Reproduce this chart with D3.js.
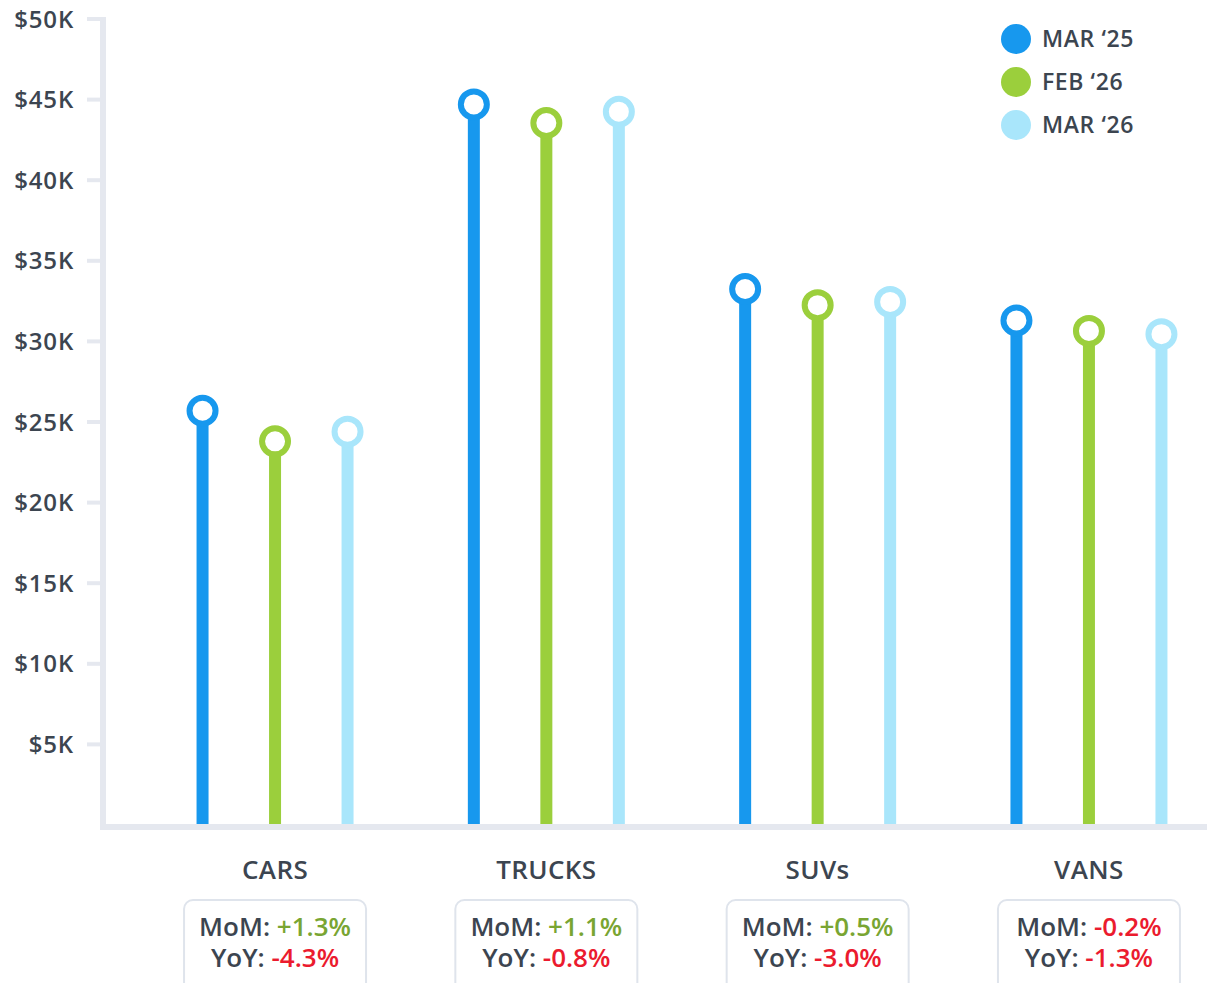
<!DOCTYPE html>
<html><head><meta charset="utf-8">
<script src="https://cdn.jsdelivr.net/npm/d3@7"></script>
<style>
html,body{margin:0;padding:0;background:#fff;}
svg{display:block;font-family:"Open Sans",sans-serif;}
</style></head>
<body><svg id="chart" width="1207" height="983"></svg>
<script>
const categories = ["CARS","TRUCKS","SUVs","VANS"];
const seriesNames = ["MAR \u201825","FEB \u201826","MAR \u201826"];
const seriesColors = ["#1798ee","#9bcf3c","#a9e6fb"];
const mar25 = [25.7, 44.7, 33.25, 31.3];
const feb26 = [23.8, 43.55, 32.25, 30.65];
const mar26 = [24.4, 44.25, 32.45, 30.45];
const tickValues = [5,10,15,20,25,30,35,40,45,50];
const tickLabels = ["$5K","$10K","$15K","$20K","$25K","$30K","$35K","$40K","$45K","$50K"];
const momText = ["+1.3%","+1.1%","+0.5%","-0.2%"];
const yoyText = ["-4.3%","-0.8%","-3.0%","-1.3%"];

const svg = d3.select("#chart");
const axisColor = "#e5e8ef";
const textColor = "#3c4550";
const posColor = "#79a532";
const negColor = "#eb1b2e";

const y = d3.scaleLinear().domain([0,50]).range([825,19]);
const x = d3.scaleBand().domain(categories).range([139.4,1224.6]).padding(0);
const xi = d3.scalePoint().domain(seriesNames).range([-72.5,72.5]);

// axis
const g = svg.append("g");
g.append("line").attr("x1",103).attr("x2",103).attr("y1",17).attr("y2",830)
  .attr("stroke",axisColor).attr("stroke-width",6);
g.append("line").attr("x1",100).attr("x2",1207).attr("y1",827).attr("y2",827)
  .attr("stroke",axisColor).attr("stroke-width",6);
tickValues.forEach((v,i)=>{
  g.append("line").attr("x1",87).attr("x2",101).attr("y1",y(v)).attr("y2",y(v))
    .attr("stroke",axisColor).attr("stroke-width",4);
  g.append("text").attr("x",74).attr("y",y(v)).attr("dy","0.36em")
    .attr("text-anchor","end").attr("font-size",24).attr("font-weight",600)
    .attr("letter-spacing",0.8)
    .attr("fill",textColor).text(tickLabels[i]);
});

// lollipops
const allSeries = [mar25, feb26, mar26];
categories.forEach((c,ci)=>{
  const cx = x(c) + x.bandwidth()/2;
  seriesNames.forEach((s,si)=>{
    const px = cx + xi(s);
    const v = allSeries[si][ci];
    svg.append("line").attr("x1",px).attr("x2",px).attr("y1",y(v)).attr("y2",824)
      .attr("stroke",seriesColors[si]).attr("stroke-width",12);
    svg.append("circle").attr("cx",px).attr("cy",y(v)).attr("r",13)
      .attr("fill","#fff").attr("stroke",seriesColors[si]).attr("stroke-width",6);
  });
  svg.append("text").attr("x",cx).attr("y",870).attr("dy","0.36em")
    .attr("text-anchor","middle").attr("font-size",26).attr("font-weight",600)
    .attr("letter-spacing",0.4)
    .attr("fill",textColor).text(c);
  svg.append("rect").attr("x",cx-91).attr("y",900).attr("width",182).attr("height",100)
    .attr("rx",9).attr("fill","#fff").attr("stroke","#dfe4ec").attr("stroke-width",2);
  const t1 = svg.append("text").attr("x",cx).attr("y",927).attr("dy","0.36em")
    .attr("text-anchor","middle").attr("font-size",26).attr("font-weight",600);
  t1.append("tspan").attr("fill",textColor).text("MoM: ");
  t1.append("tspan").attr("fill",momText[ci].startsWith("-")?negColor:posColor).text(momText[ci]);
  const t2 = svg.append("text").attr("x",cx).attr("y",958).attr("dy","0.36em")
    .attr("text-anchor","middle").attr("font-size",26).attr("font-weight",600);
  t2.append("tspan").attr("fill",textColor).text("YoY: ");
  t2.append("tspan").attr("fill",yoyText[ci].startsWith("-")?negColor:posColor).text(yoyText[ci]);
});

// legend
seriesNames.forEach((s,i)=>{
  const ly = 39 + i*43;
  svg.append("circle").attr("cx",1016).attr("cy",ly).attr("r",15).attr("fill",seriesColors[i]);
  svg.append("text").attr("x",1042).attr("y",ly).attr("dy","0.36em")
    .attr("font-size",23).attr("font-weight",600).attr("letter-spacing",0.6)
    .attr("fill",textColor).text(s);
});
</script></body></html>
